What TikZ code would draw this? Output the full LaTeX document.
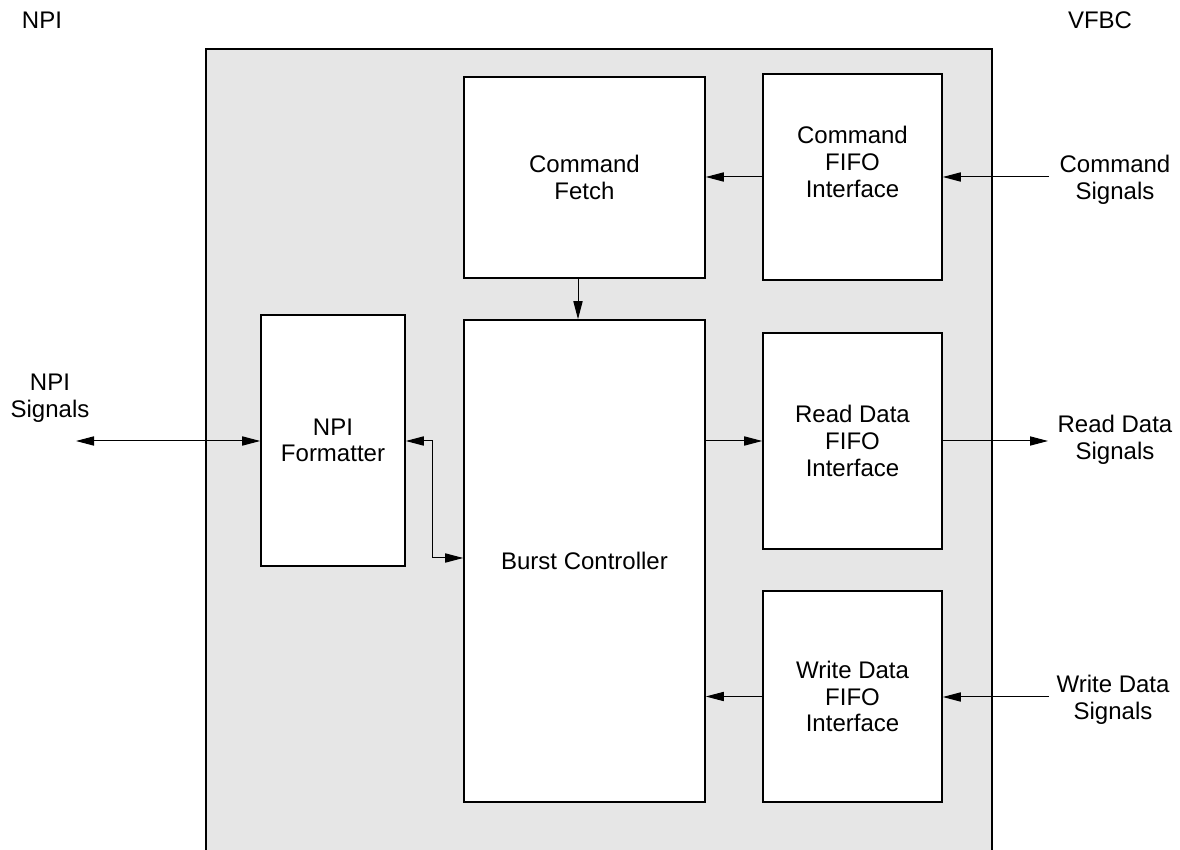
\documentclass[tikz,border=0pt]{standalone}
\usepackage{fontspec}
\setmainfont{Liberation Sans}
\usetikzlibrary{arrows.meta}
\definecolor{panelgray}{RGB}{230,230,230}
\tikzset{
  blk/.style={draw=black, line width=0.8pt, fill=white, inner sep=0pt, align=center,
    font=\fontsize{12pt}{13.3pt}\selectfont},
  lbl/.style={inner sep=0pt, align=center, font=\fontsize{12pt}{13.3pt}\selectfont},
  sig/.style={line width=0.5pt, -{Triangle[length=9pt,width=4.6pt]}},
  bisig/.style={line width=0.5pt, {Triangle[length=9pt,width=4.6pt]}-{Triangle[length=9pt,width=4.6pt]}},
}
\begin{document}
\begin{tikzpicture}[x=0.5pt,y=-0.5pt]
\useasboundingbox (0,0) rectangle (1180,850);
% panel
\fill[panelgray] (206,850) rectangle (992,49);
\draw[line width=0.8pt] (206,850) -- (206,49) -- (992,49) -- (992,850);

% blocks (centre, size)
\node[blk, minimum width=120.5pt, minimum height=100.5pt] (fetch) at (584.5,177.5) {Command\\Fetch};
\node[blk, minimum width=89.5pt, minimum height=103pt,
  label={[lbl, yshift=7.5pt]center:Command\\FIFO\\Interface}] (cmdfifo) at (852.5,177) {};
\node[blk, minimum width=72pt, minimum height=125.5pt] (fmt) at (333,440.5) {NPI\\Formatter};
\node[blk, minimum width=120.5pt, minimum height=241pt] (burst) at (584.5,561) {Burst Controller};
\node[blk, minimum width=89.5pt, minimum height=108pt] (rdfifo) at (852.5,441) {Read Data\\FIFO\\Interface};
\node[blk, minimum width=89.5pt, minimum height=105.5pt] (wrfifo) at (852.5,696.5) {Write Data\\FIFO\\Interface};

% outside labels
\node[lbl] (npititle) at (42,20) {NPI};
\node[lbl] (vfbctitle) at (1100,20) {VFBC};
\node[lbl] (npisiglbl) at (50,398) {NPI\\Signals};
\node[lbl] (cmdsiglbl) at (1115,180) {Command\\Signals};
\node[lbl] (rdsiglbl) at (1115,439.5) {Read Data\\Signals};
\node[lbl] (wrsiglbl) at (1113,699.5) {Write Data\\Signals};

% free connector ends
\coordinate (cmdsig) at (1049,177);
\coordinate (rdsig) at (1048,441);
\coordinate (wrsig) at (1049,697);
\coordinate (npisig) at (76,441);
\coordinate (bend) at (432,558);

% connectors
\draw[sig] (cmdsig) -- (cmdfifo.east |- cmdsig);
\draw[sig] (cmdfifo.west) -- (fetch.east |- cmdfifo.west);
\draw[sig] ([xshift=-3.25pt]fetch.south) -- ([xshift=-3.25pt]burst.north);
\draw[sig] (burst.east |- rdfifo.west) -- (rdfifo.west);
\draw[sig] (rdfifo.east) -- (rdsig);
\draw[sig] (wrsig) -- (wrfifo.east |- wrsig);
\draw[sig] (wrfifo.west) -- (burst.east |- wrfifo.west);
\draw[bisig] (npisig) -- (fmt.west |- npisig);
\draw[bisig] (fmt.east |- npisig) -| (bend) -- (burst.west |- bend);
\end{tikzpicture}
\end{document}
